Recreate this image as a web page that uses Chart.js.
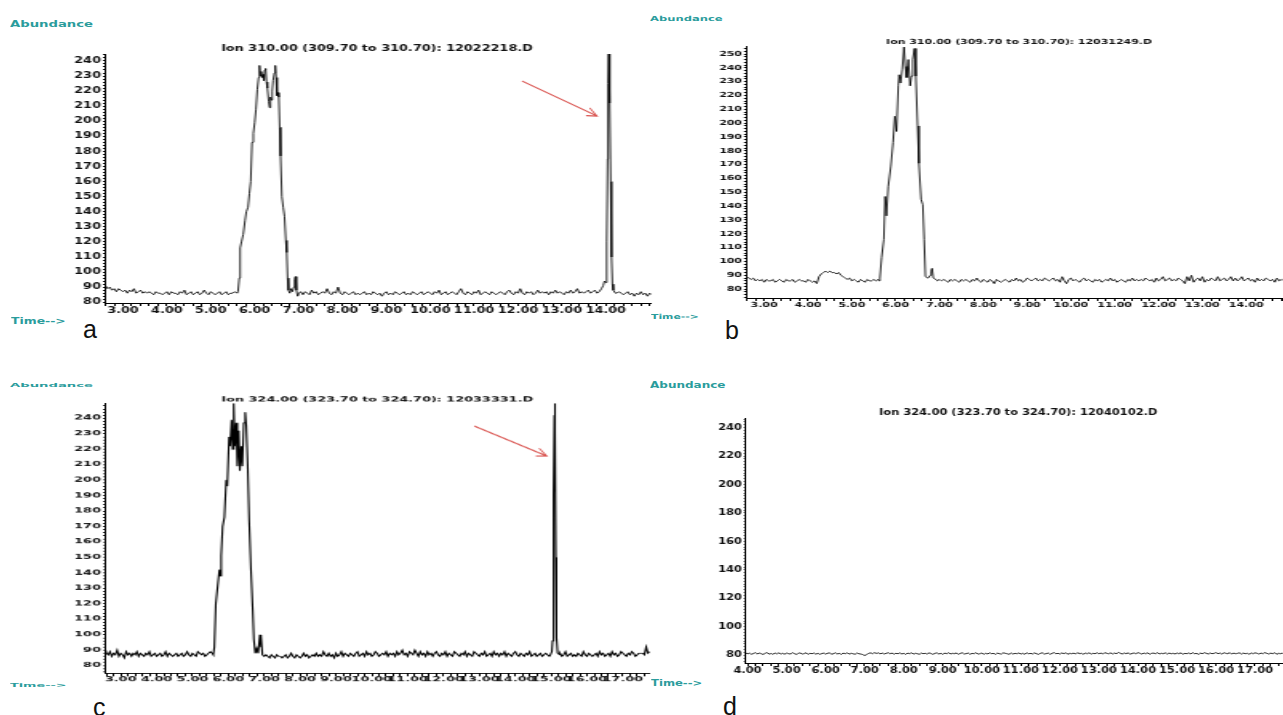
<!DOCTYPE html>
<html>
<head>
<meta charset="utf-8">
<script src="https://cdn.jsdelivr.net/npm/chart.js@4.4.1/dist/chart.umd.min.js"></script>
<style>
  html, body { margin: 0; padding: 0; background: #fff; }
  body { width: 1283px; height: 715px; position: relative; overflow: hidden; }
  canvas { position: absolute; transform-origin: 0 0; }
  .tag { position: absolute; font: bold 8px "DejaVu Sans"; line-height: 10px; color: #2a9c9c;
         white-space: nowrap; transform-origin: 0 50%; }
  .letter { position: absolute; font: 25px "Liberation Sans", Arial, sans-serif; color: #111; line-height: 25px; }
</style>
</head>
<body>
<div class="tag" style="left:10px;top:20px;transform:scaleX(1.65)">Abundance</div>
<div class="tag" style="left:11px;top:317px;transform:scaleX(1.55)">Time--&gt;</div>
<div class="letter" style="left:83px;top:317px">a</div>

<div class="tag" style="left:650px;top:14px;font-size:7px;transform:scaleX(1.65)">Abundance</div>
<div class="tag" style="left:651px;top:312px;font-size:7px;transform:scaleX(1.55)">Time--&gt;</div>
<div class="letter" style="left:725px;top:318px">b</div>

<div class="tag" style="left:10px;top:380px;transform:scale(1.65,0.75)">Abundance</div>
<div class="tag" style="left:10px;top:680px;transform:scale(1.6,0.75)">Time--&gt;</div>
<div class="letter" style="left:93px;top:695px">c</div>

<div class="tag" style="left:650px;top:381px;transform:scaleX(1.5)">Abundance</div>
<div class="tag" style="left:651px;top:679px;transform:scaleX(1.45)">Time--&gt;</div>
<div class="letter" style="left:723px;top:694px">d</div>

<script>
"use strict";

// ---- a: Ion 310.00, 12022218.D ----
const aStart = 2.60, aStep = 0.05;
const aNoise = [
    91, 89, 90, 88, 89, 87, 89, 88, 87, 88, 86, 88, 87, 89, 86, 87, 88, 86, 87, 86, // 2.60
    87, 86, 85, 87, 86, 86, 85, 86, 87, 85, 87, 86, 86, 85, 87, 86, 88, 85, 86, 87, // 3.60
    85, 86, 87, 85, 86, 88, 86, 85, 87, 86, 85, 86, 87, 85, 86, 87, 85, 86, 86, 87, // 4.60
    86, 87, 86, 86, 86, 86, 86, 86, 86, 86, 86, 86, 86, 86, 86, 86, 86, 86, 86, 86, // 5.60
    86, 86, 86, 86, 86, 86, 86, 86, 86, 86, 85, 87, 86, 85, 88, 86, 87, 85, 86, 87, // 6.60
    86, 89, 86, 85, 87, 86, 90, 86, 85, 87, 86, 85, 86, 87, 85, 86, 85, 86, 87, 85, // 7.60
    86, 85, 87, 86, 85, 86, 84, 86, 87, 85, 86, 85, 87, 86, 85, 86, 87, 85, 86, 85, // 8.60
    87, 86, 85, 86, 87, 85, 86, 87, 86, 85, 87, 86, 88, 85, 86, 87, 85, 86, 87, 86, // 9.60
    85, 87, 89, 86, 85, 87, 86, 85, 87, 86, 88, 85, 86, 87, 86, 85, 87, 86, 85, 86, // 10.60
    87, 86, 85, 87, 88, 86, 85, 87, 86, 89, 86, 85, 87, 86, 87, 85, 86, 88, 86, 87, // 11.60
    86, 87, 85, 87, 86, 88, 86, 87, 86, 85, 87, 86, 88, 86, 87, 89, 86, 87, 86, 87, // 12.60
    88, 86, 87, 88, 86, 87, 88, 89, 89, 88, 88, 88, 88, 86, 87, 86, 85, 86, 87, 85, // 13.60
    86, 84, 86, 85, 87, 85, 86, 84, 86, 85                                          // 14.60
];
const aPeakTime = [
    5.62, 5.65, 5.67, 5.70, 5.74, 5.78, 5.81, 5.85, 5.88, 5.91,
    5.94, 5.97, 6.00, 6.03, 6.06, 6.09, 6.11, 6.13, 6.15, 6.17,
    6.19, 6.21, 6.23, 6.25, 6.27, 6.29, 6.32, 6.34, 6.36, 6.38,
    6.40, 6.42, 6.45, 6.47, 6.49, 6.51, 6.53, 6.55, 6.57, 6.59,
    6.62, 6.65, 6.68, 6.71, 6.73, 6.75, 6.77, 6.80, 6.83, 6.86,
    6.89, 6.91, 6.93, 6.95, 6.98, 7.01, 7.05
];
const aPeakAbund = [
    87, 96, 116, 120, 125, 134, 140, 143, 152, 160,
    186, 192, 199, 208, 221, 229, 237, 230, 233, 229,
    231, 227, 234, 235, 226, 222, 213, 209, 216, 214,
    220, 227, 232, 237, 229, 217, 219, 216, 196, 177,
    150, 143, 137, 121, 113, 96, 88, 86, 89, 87,
    90, 95, 97, 88, 84, 86, 87
];
const aSpikeTime = [13.86, 13.90, 13.94, 13.97, 14.00, 14.02, 14.04, 14.05, 14.065, 14.08, 14.095, 14.11, 14.13, 14.15, 14.17, 14.22];
const aSpikeAbund = [87, 89, 91, 94, 93, 120, 175, 225, 245, 228, 212, 160, 110, 92, 88, 86];
const aTimeLabels = ['3.00', '4.00', '5.00', '6.00', '7.00', '8.00', '9.00', '10.00', '11.00', '12.00', '13.00', '14.00'];
const aAbundLabels = ['80', '90', '100', '110', '120', '130', '140', '150', '160', '170', '180', '190', '200', '210', '220', '230', '240'];

// ---- b: Ion 310.00, 12031249.D ----
const bStart = 2.60, bStep = 0.05;
const bNoise = [
    89, 88, 87, 88, 86, 87, 86, 87, 85, 87, 86, 86, 87, 85, 86, 87, 86, 85, 87, 86, // 2.60
    86, 87, 85, 86, 87, 86, 86, 85, 87, 86, 85, 86, 84, 89, 91, 92, 93, 92, 93, 92, // 3.60
    92, 91, 92, 90, 89, 88, 87, 88, 86, 87, 86, 85, 87, 86, 85, 87, 86, 86, 87, 86, // 4.60
    87, 86, 86, 86, 86, 86, 86, 86, 86, 86, 86, 86, 86, 86, 86, 86, 86, 86, 86, 86, // 5.60
    86, 86, 86, 86, 86, 86, 86, 86, 87, 86, 87, 86, 85, 87, 86, 87, 86, 85, 87, 86, // 6.60
    87, 86, 85, 87, 86, 88, 86, 85, 87, 86, 85, 87, 86, 84, 87, 86, 85, 86, 87, 86, // 7.60
    85, 87, 86, 88, 86, 87, 85, 86, 88, 87, 86, 87, 88, 86, 87, 86, 88, 87, 86, 87, // 8.60
    88, 86, 87, 85, 89, 86, 84, 87, 88, 86, 87, 86, 85, 87, 88, 86, 87, 86, 85, 87, // 9.60
    86, 87, 85, 86, 87, 86, 88, 86, 87, 85, 86, 87, 86, 85, 87, 86, 88, 86, 87, 86, // 10.60
    87, 86, 88, 87, 86, 87, 85, 88, 86, 87, 89, 86, 87, 88, 86, 87, 86, 88, 87, 86, // 11.60
    84, 89, 86, 90, 85, 87, 88, 86, 89, 85, 87, 86, 88, 87, 86, 89, 86, 87, 88, 86, // 12.60
    87, 89, 86, 88, 86, 87, 89, 86, 87, 88, 86, 87, 85, 88, 86, 87, 86, 88, 87, 86, // 13.60
    87, 85, 88, 86, 87, 86                                                          // 14.60
];
const bPeakTime = [
    5.62, 5.64, 5.68, 5.73, 5.76, 5.79, 5.83, 5.89, 5.94, 5.98,
    6.02, 6.06, 6.08, 6.11, 6.15, 6.19, 6.22, 6.25, 6.29, 6.33,
    6.36, 6.39, 6.43, 6.46, 6.50, 6.53, 6.58, 6.62, 6.65, 6.68,
    6.74, 6.79, 6.81, 6.83, 6.86, 6.92, 6.95
];
const bPeakAbund = [
    86, 88, 103, 116, 147, 133, 154, 169, 186, 205,
    194, 227, 235, 229, 239, 255, 241, 233, 246, 227,
    234, 246, 254, 234, 198, 171, 145, 141, 116, 89,
    88, 90, 93, 95, 88, 87, 86
];
const bTimeLabels = ['3.00', '4.00', '5.00', '6.00', '7.00', '8.00', '9.00', '10.00', '11.00', '12.00', '13.00', '14.00'];
const bAbundLabels = ['80', '90', '100', '110', '120', '130', '140', '150', '160', '170', '180', '190', '200', '210', '220', '230', '240', '250'];

// ---- c: Ion 324.00, 12033331.D ----
const cStart = 2.55, cStep = 0.05;
const cNoise = [
    92, 88, 87, 89, 86, 88, 87, 90, 86, 88, 87, 85, 89, 87, 88, 86, 88, 87, 89, 86, // 2.55
    88, 87, 86, 88, 87, 89, 86, 87, 88, 86, 87, 88, 86, 87, 89, 86, 88, 87, 86, 87, // 3.55
    88, 86, 87, 88, 86, 87, 89, 87, 86, 88, 87, 86, 89, 88, 87, 88, 86, 87, 88, 89, // 4.55
    88, 87, 87, 87, 87, 87, 87, 87, 87, 87, 87, 87, 87, 87, 87, 87, 87, 87, 87, 87, // 5.55
    87, 87, 87, 87, 87, 87, 87, 87, 87, 86, 87, 86, 85, 87, 86, 85, 87, 86, 86, 85, // 6.55
    86, 87, 85, 86, 88, 86, 85, 87, 86, 85, 86, 88, 86, 87, 85, 86, 87, 86, 88, 86, // 7.55
    87, 86, 89, 87, 86, 88, 86, 87, 85, 88, 86, 87, 89, 86, 88, 87, 86, 88, 87, 86, // 8.55
    88, 89, 86, 87, 88, 86, 89, 87, 88, 86, 87, 89, 88, 86, 87, 88, 87, 89, 86, 88, // 9.55
    87, 88, 86, 89, 87, 88, 90, 87, 88, 86, 89, 88, 87, 90, 88, 86, 89, 87, 88, 86, // 10.55
    89, 87, 88, 86, 88, 89, 87, 86, 88, 87, 89, 86, 88, 87, 86, 89, 88, 87, 86, 88, // 11.55
    87, 89, 86, 88, 87, 86, 89, 88, 87, 86, 88, 87, 89, 86, 87, 88, 86, 89, 87, 88, // 12.55
    86, 88, 87, 89, 86, 88, 87, 86, 88, 89, 87, 86, 88, 87, 86, 88, 87, 89, 86, 87, // 13.55
    88, 86, 87, 88, 86, 87, 88, 87, 86, 87, 87, 87, 87, 87, 88, 86, 87, 89, 86, 87, // 14.55
    88, 86, 87, 86, 88, 87, 86, 89, 87, 86, 88, 87, 86, 87, 88, 86, 89, 87, 88, 86, // 15.55
    87, 88, 86, 89, 87, 88, 86, 87, 89, 88, 87, 86, 88, 87, 89, 88, 86, 87, 88, 88, // 16.55
    88, 87, 92, 88, 89                                                              // 17.55
];
const cPeakTime = [
    5.58, 5.61, 5.65, 5.70, 5.75, 5.78, 5.80, 5.84, 5.89, 5.94,
    5.97, 6.02, 6.05, 6.09, 6.12, 6.15, 6.18, 6.22, 6.25, 6.29,
    6.32, 6.36, 6.39, 6.43, 6.47, 6.50, 6.54, 6.58, 6.63, 6.68,
    6.71, 6.75, 6.79, 6.83, 6.88, 6.90, 6.92, 6.95
];
const cPeakAbund = [
    87, 92, 120, 131, 142, 138, 151, 170, 176, 200,
    196, 228, 222, 239, 220, 250, 222, 237, 209, 232,
    206, 222, 209, 237, 244, 235, 209, 174, 142, 116,
    97, 88, 91, 88, 100, 92, 99, 87
];
const cSpikeTime = [14.98, 15.02, 15.04, 15.06, 15.075, 15.09, 15.10, 15.115, 15.13, 15.15, 15.18, 15.24];
const cSpikeAbund = [87, 89, 96, 133, 190, 242, 250, 232, 150, 98, 88, 87];
const cTimeLabels = ['3.00', '4.00', '5.00', '6.00', '7.00', '8.00', '9.00', '10.00', '11.00', '12.00', '13.00', '14.00', '15.00', '16.00', '17.00'];
const cAbundLabels = ['80', '90', '100', '110', '120', '130', '140', '150', '160', '170', '180', '190', '200', '210', '220', '230', '240'];

// ---- d: Ion 324.00, 12040102.D ----
const dStart = 3.95, dStep = 0.05;
const dNoise = [
    81.9, 81.0, 81.5, 80.7, 81.3, 81.8, 80.9, 81.6, 81.1, 80.6, 81.4, 81.9, 80.8, 81.3, 80.7, 81.6, 81.0, 81.8, 80.9, 81.4, // 3.95
    80.7, 81.6, 81.1, 80.9, 81.8, 81.2, 80.6, 81.4, 81.7, 80.9, 81.2, 81.8, 80.7, 81.4, 81.1, 81.6, 80.8, 81.4, 80.7, 81.2, // 4.95
    81.6, 80.9, 81.4, 81.8, 80.7, 81.2, 81.7, 80.9, 81.4, 80.6, 81.6, 81.1, 81.8, 80.8, 81.4, 81.1, 80.7, 81.6, 81.1, 80.9, // 5.95
    80.5, 79.8, 80.6, 81.3, 81.8, 81.1, 81.9, 81.3, 81.7, 81.0, 81.6, 80.9, 81.4, 81.8, 81.1, 81.6, 80.8, 81.4, 81.1, 81.7, // 6.95
    80.9, 81.4, 80.7, 81.6, 81.1, 81.8, 80.8, 81.4, 81.1, 80.7, 81.6, 81.1, 81.4, 80.9, 81.8, 81.2, 80.7, 81.4, 81.7, 80.9, // 7.95
    81.4, 80.7, 81.6, 81.1, 81.8, 80.9, 81.4, 81.1, 81.7, 80.7, 81.4, 81.8, 80.9, 81.2, 81.6, 80.7, 81.4, 81.1, 81.8, 80.9, // 8.95
    81.1, 81.6, 80.7, 81.4, 80.9, 81.8, 81.1, 81.4, 80.7, 81.6, 81.1, 80.9, 81.8, 81.4, 81.1, 80.7, 81.6, 80.9, 81.4, 81.1, // 9.95
    81.6, 80.9, 81.4, 80.7, 81.8, 81.1, 81.4, 80.9, 81.7, 81.1, 80.7, 81.4, 81.8, 80.9, 81.2, 81.6, 80.7, 81.4, 81.9, 81.1, // 10.95
    81.4, 80.9, 81.7, 81.1, 81.8, 80.7, 81.4, 81.1, 81.6, 80.9, 81.9, 81.1, 81.4, 80.7, 81.6, 81.1, 81.8, 80.9, 81.4, 81.1, // 11.95
    81.8, 81.1, 81.6, 80.9, 81.9, 81.4, 81.1, 81.8, 80.9, 81.6, 81.1, 82.0, 81.4, 80.9, 81.6, 81.1, 81.8, 80.7, 81.4, 81.6, // 12.95
    81.1, 81.9, 81.4, 80.9, 81.6, 81.1, 81.8, 80.7, 81.4, 81.6, 81.1, 81.9, 80.9, 81.4, 81.1, 81.8, 80.9, 81.6, 81.1, 81.4, // 13.95
    80.9, 81.6, 81.1, 81.8, 80.7, 81.4, 81.1, 81.6, 80.9, 81.9, 81.1, 81.4, 80.7, 81.6, 81.1, 81.8, 81.4, 80.9, 81.6, 81.1, // 14.95
    81.4, 81.9, 81.1, 81.6, 80.9, 81.8, 81.4, 81.1, 81.9, 80.9, 81.6, 81.1, 81.4, 81.8, 80.9, 81.6, 81.1, 81.4, 80.7, 81.6, // 15.95
    81.1, 81.8, 81.4, 80.9, 81.6, 81.1, 81.9, 81.4, 80.9, 81.6, 81.1, 81.8, 80.7, 81.4, 81.1, 81.6, 80.9                    // 16.95
];
const dTimeLabels = ['4.00', '5.00', '6.00', '7.00', '8.00', '9.00', '10.00', '11.00', '12.00', '13.00', '14.00', '15.00', '16.00', '17.00'];
const dAbundLabels = ['80', '100', '120', '140', '160', '180', '200', '220', '240'];

// merge the sampled baseline with the hand-traced peak segments
function buildTrace(start, step, noise, peaks) {
    const windows = peaks.map(p => [p.time[0], p.time[p.time.length - 1]]);
    const pts = [];
    noise.forEach((v, i) => {
        const t = +(start + i * step).toFixed(3);
        if (windows.some(w => t >= w[0] && t <= w[1])) return;
        pts.push({ x: t, y: v });
    });
    peaks.forEach(p => p.time.forEach((t, i) => pts.push({ x: t, y: p.abundance[i] })));
    return pts.sort((p, q) => p.x - q.x);
}

// title text centred over the plot
const headline = {
    id: "headline",
    afterDraw(chart, args, opts) {
        const ctx = chart.ctx;
        ctx.save();
        ctx.font = "bold " + opts.size + "px 'DejaVu Sans'";
        ctx.fillStyle = "#111";
        ctx.textAlign = "center";
        ctx.textBaseline = "middle";
        ctx.fillText(opts.text, opts.x, opts.y);
        ctx.restore();
    }
};

// red arrow pointing at a peak, drawn in page pixels so the head is not stretched
const pointer = {
    id: "pointer",
    afterDatasetsDraw(chart, args, opts) {
        if (!opts.from) return;
        const xs = chart.scales.x, ys = chart.scales.y, ctx = chart.ctx;
        const x1 = xs.getPixelForValue(opts.from[0]) * opts.sx;
        const y1 = ys.getPixelForValue(opts.from[1]) * opts.sy;
        const x2 = xs.getPixelForValue(opts.to[0]) * opts.sx;
        const y2 = ys.getPixelForValue(opts.to[1]) * opts.sy;
        const ang = Math.atan2(y2 - y1, x2 - x1);
        ctx.save();
        ctx.scale(1 / opts.sx, 1 / opts.sy);
        ctx.strokeStyle = "#d9534f";
        ctx.lineWidth = 1.2;
        ctx.beginPath();
        ctx.moveTo(x1, y1);
        ctx.lineTo(x2, y2);
        ctx.moveTo(x2 - 11 * Math.cos(ang - 0.4), y2 - 11 * Math.sin(ang - 0.4));
        ctx.lineTo(x2, y2);
        ctx.lineTo(x2 - 11 * Math.cos(ang + 0.4), y2 - 11 * Math.sin(ang + 0.4));
        ctx.stroke();
        ctx.restore();
    }
};

// axis ranges are picked so (max - min) is not a whole number of steps;
// otherwise Chart.js anchors the ticks on min instead of round values
const panels = [
    {
        title: "Ion 310.00 (309.70 to 310.70): 12022218.D",
        points: buildTrace(aStart, aStep, aNoise, [
            { time: aPeakTime, abundance: aPeakAbund },
            { time: aSpikeTime, abundance: aSpikeAbund }
        ]),
        timeLabels: aTimeLabels, abundLabels: aAbundLabels,
        xMin: 2.59, xMax: 15.04, yMin: 79.5, yMax: 244.6,
        plotLeft: 105, plotRight: 651.5, plotTop: 54, plotBottom: 303,
        titleX: 377, titleY: 49, sx: 1.6, sy: 1, font: 8,
        arrow: { from: [12.09, 226.7], to: [13.8, 203.5] }
    },
    {
        title: "Ion 310.00 (309.70 to 310.70): 12031249.D",
        points: buildTrace(bStart, bStep, bNoise, [
            { time: bPeakTime, abundance: bPeakAbund }
        ]),
        timeLabels: bTimeLabels, abundLabels: bAbundLabels,
        xMin: 2.585, xMax: 14.83, yMin: 73.6, yMax: 255.5,
        plotLeft: 746, plotRight: 1283, plotTop: 46.7, plotBottom: 298.3,
        titleX: 1019, titleY: 42.3, sx: 1.56, sy: 1, font: 7,
        arrow: null
    },
    {
        title: "Ion 324.00 (323.70 to 324.70): 12033331.D",
        points: buildTrace(cStart, cStep, cNoise, [
            { time: cPeakTime, abundance: cPeakAbund },
            { time: cSpikeTime, abundance: cSpikeAbund }
        ]),
        timeLabels: cTimeLabels, abundLabels: cAbundLabels,
        xMin: 2.56, xMax: 17.75, yMin: 75, yMax: 249.7,
        plotLeft: 105.2, plotRight: 650, plotTop: 403.3, plotBottom: 673.3,
        titleX: 377.5, titleY: 400, sx: 1.6, sy: 0.75, font: 8,
        arrow: { from: [12.86, 235], to: [14.88, 215.6] }
    },
    {
        title: "Ion 324.00 (323.70 to 324.70): 12040102.D",
        points: buildTrace(dStart, dStep, dNoise, []),
        timeLabels: dTimeLabels, abundLabels: dAbundLabels,
        xMin: 3.96, xMax: 17.72, yMin: 74.6, yMax: 246.3,
        plotLeft: 745.8, plotRight: 1283, plotTop: 418.3, plotBottom: 662.7,
        titleX: 1018, titleY: 412.7, sx: 1.43, sy: 1, font: 8,
        arrow: null
    }
];

function drawPanel(p) {
    const left = p.plotLeft - 50;
    const top = Math.min(p.plotTop, p.titleY - 6) - 6;
    const right = Math.min(p.plotRight + 5, 1283);
    const bottom = p.plotBottom + 18;
    const w = Math.round((right - left) / p.sx);
    const h = Math.round((bottom - top) / p.sy);

    const canvas = document.createElement("canvas");
    canvas.width = w;
    canvas.height = h;
    canvas.style.width = w + "px";
    canvas.style.height = h + "px";
    canvas.style.left = left + "px";
    canvas.style.top = top + "px";
    canvas.style.transform = "scale(" + p.sx + "," + p.sy + ")";
    document.body.appendChild(canvas);

    const yAxisWidth = (p.plotLeft - left) / p.sx;
    const xAxisHeight = h - (p.plotBottom - top) / p.sy;
    const tickFont = { family: "'DejaVu Sans'", size: p.font, weight: "bold" };

    new Chart(canvas, {
        type: "line",
        data: {
            datasets: [{
                data: p.points,
                borderColor: "#000",
                borderWidth: p.sy < 1 ? 1.1 : 0.85,
                pointRadius: 0,
                tension: 0,
                fill: false
            }]
        },
        plugins: [headline, pointer],
        options: {
            responsive: false,
            animation: false,
            devicePixelRatio: 1,
            parsing: false,
            layout: {
                padding: {
                    left: 0,
                    top: (p.plotTop - top) / p.sy,
                    right: w - (p.plotRight - left) / p.sx,
                    bottom: 0
                }
            },
            plugins: {
                legend: { display: false },
                tooltip: { enabled: false },
                headline: {
                    text: p.title,
                    size: p.font,
                    x: (p.titleX - left) / p.sx,
                    y: (p.titleY - top) / p.sy
                },
                pointer: p.arrow ? {
                    from: p.arrow.from, to: p.arrow.to, sx: p.sx, sy: p.sy
                } : { from: null }
            },
            scales: {
                x: {
                    type: "linear",
                    min: p.xMin,
                    max: p.xMax,
                    border: { display: true, color: "#000", width: 1 },
                    grid: { drawOnChartArea: false, drawTicks: true, tickLength: 3 / p.sy, color: "#000" },
                    ticks: {
                        stepSize: 0.2,
                        autoSkip: false,
                        maxRotation: 0,
                        minRotation: 0,
                        includeBounds: false,
                        padding: 0,
                        color: "#111",
                        font: tickFont,
                        callback: v => (p.timeLabels.includes(v.toFixed(2)) ? v.toFixed(2) : "")
                    },
                    afterFit(scale) { scale.height = xAxisHeight; }
                },
                y: {
                    type: "linear",
                    min: p.yMin,
                    max: p.yMax,
                    border: { display: true, color: "#000", width: 1 },
                    grid: { drawOnChartArea: false, drawTicks: true, tickLength: 2 / p.sx, color: "#000" },
                    ticks: {
                        stepSize: 2,
                        autoSkip: false,
                        includeBounds: false,
                        padding: 2 / p.sx,
                        color: "#111",
                        font: tickFont,
                        callback: v => {
                            const s = String(Math.round(v));
                            return Math.abs(v - Math.round(v)) < 1e-6 && p.abundLabels.includes(s) ? s : "";
                        }
                    },
                    afterFit(scale) { scale.width = yAxisWidth; }
                }
            }
        }
    });
}

panels.forEach(drawPanel);
</script>
</body>
</html>
